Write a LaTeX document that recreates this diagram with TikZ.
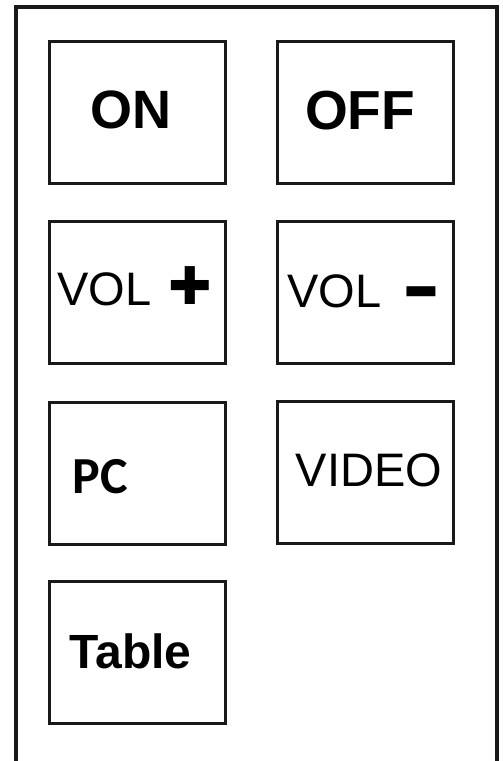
\documentclass[tikz,border=0pt]{standalone}
\usepackage{fontspec}
\setmainfont{Liberation Sans}
\newfontfamily\carlitofont{Carlito}
\newfontfamily\dejavufont{DejaVu Sans}
\tikzset{
  keybox/.style={draw=black!90, line width=3pt, rectangle, minimum width=176pt, minimum height=142pt, inner sep=0pt},
  frame/.style={draw=black!90, line width=3.3pt},
  lbl/.style={anchor=base, inner sep=0pt, text=black},
}
\begin{document}
\begin{tikzpicture}[x=1pt,y=-1pt]
\useasboundingbox (0,0) rectangle (503,761);
\fill[white] (0,0) rectangle (503,761);
\draw[frame] (16,761) -- (16,7) -- (497,7) -- (497,761);
% boxes
\node[keybox] (on) at (137,112) {};
\node[keybox] (off) at (365,112) {};
\node[keybox] (volp) at (137,292) {};
\node[keybox] (volm) at (365,292) {};
\node[keybox] (pc) at (137,473.5) {};
\node[keybox] (video) at (365,472.5) {};
\node[keybox] (table) at (137,652.5) {};
% labels
\node[lbl, font=\fontsize{54}{60}\selectfont\bfseries] (tOn) at (131,128) {ON};
\node[lbl, font=\fontsize{55}{60}\selectfont\bfseries] (tOff) at (360,129) {OFF};
\node[lbl, anchor=base west, font=\fontsize{47}{50}\selectfont] (tVolA) at (57,305) {VOL};
\node[lbl, anchor=center, font=\fontsize{52}{56}\selectfont\dejavufont] (tPlus) at (190,286) {✚};
\node[lbl, anchor=base west, font=\fontsize{47}{50}\selectfont] (tVolB) at (287,307) {VOL};
\node[lbl, font=\fontsize{60}{60}\selectfont\bfseries] (tMinus) at (421,313) {\scalebox{1.9}[1.4]{-}};
\node[lbl, font=\fontsize{52}{56}\selectfont\carlitofont\bfseries] (tPc) at (100,493) {PC};
\node[lbl, font=\fontsize{47}{50}\selectfont] (tVideo) at (369,486) {VIDEO};
\node[lbl, font=\fontsize{48}{52}\selectfont\bfseries] (tTable) at (130.5,668) {Table};
\end{tikzpicture}
\end{document}
